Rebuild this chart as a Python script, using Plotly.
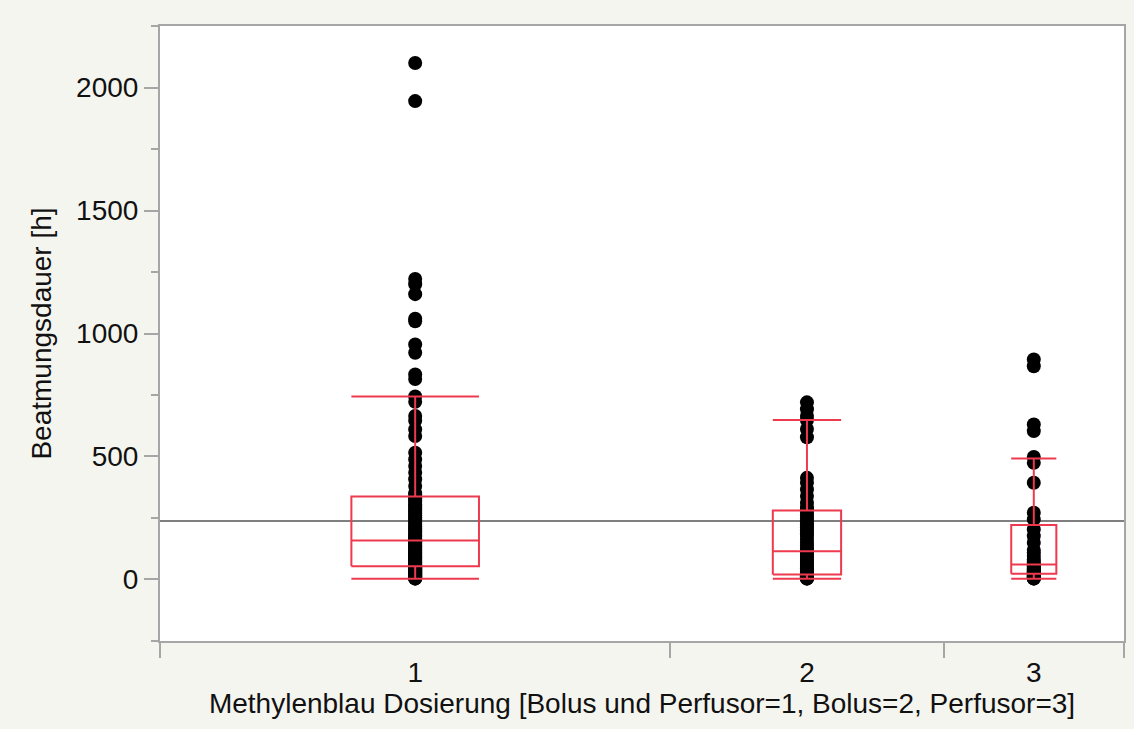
import numpy as np
import plotly.graph_objects as go

# Beatmungsdauer [h] per Methylenblau-Dosierungsgruppe
group_labels = ["1", "2", "3"]

dose_1 = [
    2100, 1945, 1222, 1200, 1160, 1060, 1050, 955, 922, 833, 815, 744, 722,
    665, 645, 610, 583, 515, 488, 461, 434, 407, 380, 352, 345,
    330, 322, 315, 305, 298, 290, 282, 275, 268, 260, 252, 245, 238, 230,
    222, 215, 208, 200, 192, 185, 178, 172, 166, 160,
    158,
    155, 150, 145, 140, 135, 130, 125, 120, 115, 110, 105, 100, 96, 92, 88,
    84, 80, 76, 72, 68, 64, 60, 57, 55,
    50, 48, 46, 44, 42, 40, 38, 36, 34, 32, 30, 28, 26, 24, 22, 20, 18, 16,
    14, 12, 10, 8, 6, 4, 3,
]
dose_2 = [
    720, 692, 665, 648, 612, 578, 413, 393, 366, 339, 312, 295, 285,
    272, 260, 248, 236, 224, 212, 200, 188, 176, 164, 150, 138, 126,
    114,
    108, 100, 92, 84, 76, 68, 60, 52, 45, 38, 32, 27, 22,
    19, 18, 16, 15, 13, 12, 10, 9, 8, 6, 5, 4, 3,
]
dose_3 = [
    894, 867, 630, 603, 498, 474, 393, 271, 244,
    203, 176, 149, 120, 108, 95, 81, 70,
    61,
    56, 50, 45, 40, 36, 32, 28, 25,
    21, 18, 15, 13, 10, 8, 6, 4, 3,
]

# Box-plot summary per group
q1 = [53, 20, 23]
median = [158, 114, 61]
q3 = [337, 280, 221]
whisker_low = [3, 3, 3]
whisker_high = [744, 648, 492]
overall_mean = 238

groups = [dose_1, dose_2, dose_3]
counts = np.array([len(g) for g in groups], dtype=float)
edges = np.concatenate([[0.0], np.cumsum(counts)])
centers = (edges[:-1] + edges[1:]) / 2
half_box = 0.125 * counts
total = edges[-1]

RED = "#EE3A4E"
AXIS = "#A6A6A6"
FONT = "Liberation Sans, Arial, sans-serif"

fig = go.Figure()

# grand mean reference line
fig.add_trace(go.Scatter(
    x=[0, total], y=[overall_mean, overall_mean], mode="lines",
    line=dict(color="#7F7F7F", width=2), hoverinfo="skip",
))

# individual observations
px, py = [], []
for c, g in zip(centers, groups):
    px += [c] * len(g)
    py += list(g)
fig.add_trace(go.Scatter(
    x=px, y=py, mode="markers",
    marker=dict(color="black", size=14, line=dict(width=0)),
))

# boxes, medians, whiskers and caps
bx, by = [], []
for c, h, a, m, b, lo, hi in zip(centers, half_box, q1, median, q3,
                                 whisker_low, whisker_high):
    bx += [c - h, c + h, c + h, c - h, c - h, None]
    by += [a, a, b, b, a, None]
    bx += [c - h, c + h, None]
    by += [m, m, None]
    bx += [c, c, None, c, c, None]
    by += [b, hi, None, a, lo, None]
    bx += [c - h, c + h, None, c - h, c + h, None]
    by += [hi, hi, None, lo, lo, None]
fig.add_trace(go.Scatter(
    x=bx, y=by, mode="lines", line=dict(color=RED, width=2),
    hoverinfo="skip",
))

# carrier for the labelled category axis
fig.add_trace(go.Scatter(x=[], y=[], xaxis="x2", yaxis="y"))

fig.update_layout(
    width=1134, height=729,
    margin=dict(l=160, r=8, t=26, b=88),
    paper_bgcolor="#F5F5F0",
    plot_bgcolor="white",
    showlegend=False,
    font=dict(family=FONT, size=28, color="#111111"),
    xaxis=dict(
        range=[0, total], tickvals=list(edges), showticklabels=False,
        ticks="outside", ticklen=15, tickwidth=2, tickcolor=AXIS,
        showline=True, linecolor=AXIS, linewidth=2, mirror=True,
        showgrid=False, zeroline=False,
    ),
    xaxis2=dict(
        overlaying="x", anchor="y", side="bottom", range=[0, total],
        tickvals=list(centers), ticktext=group_labels,
        ticks="outside", ticklen=6, tickcolor="rgba(0,0,0,0)",
        showline=False, showgrid=False, zeroline=False,
        title=dict(
            text="Methylenblau Dosierung [Bolus und Perfusor=1, Bolus=2, Perfusor=3]",
            standoff=4, font=dict(size=28),
        ),
    ),
    yaxis=dict(
        range=[-250.5, 2250.5], tickvals=[0, 500, 1000, 1500, 2000],
        ticks="outside", ticklen=14, tickwidth=2, tickcolor=AXIS,
        minor=dict(ticks="outside", ticklen=7, tickwidth=2, tickcolor=AXIS,
                   dtick=250, tick0=0, showgrid=False),
        showline=True, linecolor=AXIS, linewidth=2, mirror=True,
        showgrid=False, zeroline=False,
        title=dict(text="Beatmungsdauer [h]", standoff=16, font=dict(size=28)),
    ),
)

fig.write_html("out.html")
